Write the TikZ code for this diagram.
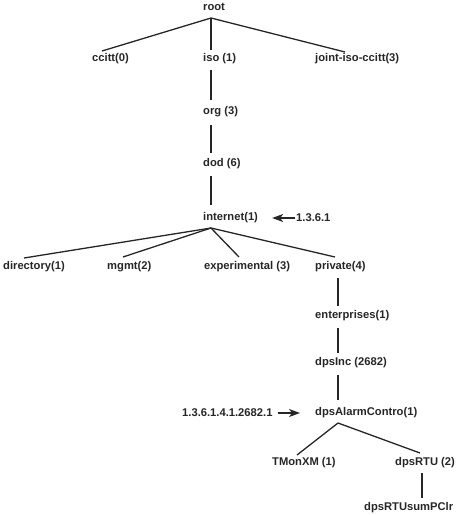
\documentclass[tikz,border=0pt]{standalone}
\usepackage{fontspec}
\setmainfont{Liberation Sans}
\usetikzlibrary{arrows.meta}
\definecolor{ink}{HTML}{262626}
\begin{document}
\begin{tikzpicture}[x=1pt,y=-1pt,
  lbl/.style={anchor=west,inner sep=0pt,font=\fontsize{11.2}{13}\selectfont\bfseries,text=ink},
  edge/.style={draw=ink,line width=1.3pt},
  ptr/.style={draw=ink,line width=1.3pt,-{Stealth[length=11pt,width=8pt,inset=3pt]}}]
\useasboundingbox (0,0) rectangle (472,515);
% nodes
\node[lbl] (root)  at (203,7)   {root};
\node[lbl] (ccitt) at (92,59)   {ccitt(0)};
\node[lbl] (iso)   at (203,59)  {iso (1)};
\node[lbl] (joint) at (315,59)  {joint-iso-ccitt(3)};
\node[lbl] (org)   at (203,112) {org (3)};
\node[lbl] (dod)   at (203,164) {dod (6)};
\node[lbl] (inet)  at (203,218) {internet(1)};
\node[lbl] (oid1)  at (296,218) {1.3.6.1};
\node[lbl] (dir)   at (3,267)   {directory(1)};
\node[lbl] (mgmt)  at (107,267) {mgmt(2)};
\node[lbl] (exp)   at (204,267) {experimental (3)};
\node[lbl] (priv)  at (315,267) {private(4)};
\node[lbl] (ent)   at (315,316) {enterprises(1)};
\node[lbl] (inc)   at (315,363) {dpsInc (2682)};
\node[lbl] (alarm) at (315,413) {dpsAlarmContro(1)};
\node[lbl] (oid2)  at (182,413) {1.3.6.1.4.1.2682.1};
\node[lbl] (tmon)  at (272,463) {TMonXM (1)};
\node[lbl] (rtu)   at (395,463) {dpsRTU (2)};
\node[lbl] (sum)   at (364,508) {dpsRTUsumPClr};
% connector end points
\coordinate (root-b)  at (211,18);
\coordinate (ccitt-t) at (102,51);
\coordinate (iso-t)   at (211,50);
\coordinate (joint-t) at (345,52);
\coordinate (iso-b)   at (211,70);
\coordinate (org-t)   at (211,100);
\coordinate (org-b)   at (211,125);
\coordinate (dod-t)   at (211,153);
\coordinate (dod-b)   at (211,176);
\coordinate (inet-t)  at (211,205);
\coordinate (inet-b)  at (211,228);
\coordinate (dir-t)   at (24,258);
\coordinate (mgmt-t)  at (123,257);
\coordinate (exp-t)   at (239,257);
\coordinate (priv-t)  at (335,257);
\coordinate (priv-b)  at (338,278);
\coordinate (ent-t)   at (338,306);
\coordinate (ent-b)   at (338,328);
\coordinate (inc-t)   at (338,353);
\coordinate (inc-b)   at (338,375);
\coordinate (alarm-t) at (338,400);
\coordinate (alarm-b) at (338,423);
\coordinate (tmon-t)  at (297,455);
\coordinate (rtu-t)   at (420,453);
\coordinate (rtu-b)   at (422,473);
\coordinate (sum-t)   at (422,498);
% connectors
\draw[edge] (root-b) -- (ccitt-t);
\draw[edge] (root-b) -- (iso-t);
\draw[edge] (root-b) -- (joint-t);
\draw[edge] (iso-b) -- (org-t);
\draw[edge] (org-b) -- (dod-t);
\draw[edge] (dod-b) -- (inet-t);
\draw[edge] (inet-b) -- (dir-t);
\draw[edge] (inet-b) -- (mgmt-t);
\draw[edge] (inet-b) -- (exp-t);
\draw[edge] (inet-b) -- (priv-t);
\draw[edge] (priv-b) -- (ent-t);
\draw[edge] (ent-b) -- (inc-t);
\draw[edge] (inc-b) -- (alarm-t);
\draw[edge] (alarm-b) -- (tmon-t);
\draw[edge] (alarm-b) -- (rtu-t);
\draw[edge] (rtu-b) -- (sum-t);
% pointers
\draw[ptr,shorten <=1pt,shorten >=14pt] (oid1.west) -- (inet.east |- oid1.west);
\draw[ptr,shorten <=5pt,shorten >=15pt] (oid2.east) -- (alarm.west |- oid2.east);
\end{tikzpicture}
\end{document}
